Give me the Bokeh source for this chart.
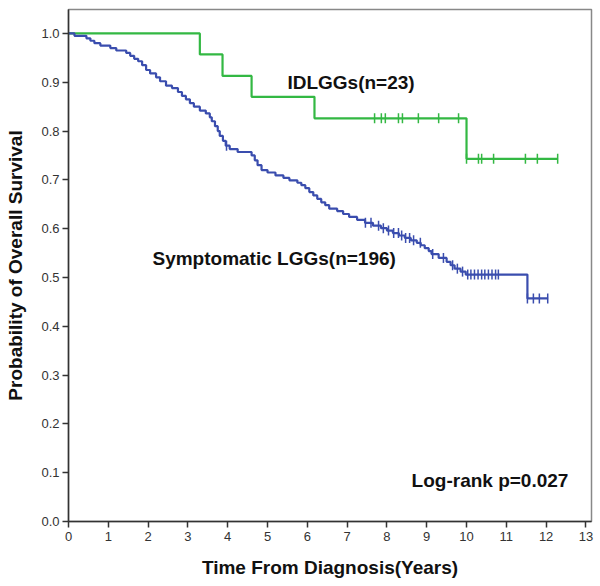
import numpy as np
from bokeh.plotting import figure
from bokeh.models import Range1d, FixedTicker, ColumnDataSource, CustomJSTickFormatter
from bokeh.core.properties import value
from bokeh.embed import file_html
from bokeh.resources import INLINE

# ---- data ----
# IDLGGs (n=23): event times (years) and survival after each event
green_times = [0.0, 3.3, 3.87, 4.6, 6.18, 10.0, 12.3]
green_surv = [1.0, 0.957, 0.913, 0.870, 0.826, 0.743, 0.743]
green_censor = [7.69, 7.86, 7.96, 8.29, 8.39, 8.79, 9.30, 9.80,
                10.0, 10.3, 10.38, 10.68, 11.48, 11.78, 12.29]

# Symptomatic LGGs (n=196)
blue_times = [0.0, 0.15, 0.45, 0.55, 0.65, 0.8, 1.05, 1.2, 1.45, 1.55, 1.65, 1.75,
              1.85, 1.95, 2.05, 2.2, 2.3, 2.45, 2.6, 2.75, 2.85, 2.95, 3.05, 3.15,
              3.3, 3.45, 3.55, 3.6, 3.68, 3.75, 3.8, 3.88, 3.95, 4.05, 4.25, 4.6,
              4.68, 4.75, 4.85, 5.0, 5.2, 5.4, 5.55, 5.75, 5.85, 5.95, 6.05, 6.15,
              6.25, 6.35, 6.45, 6.55, 6.75, 6.9, 7.05, 7.25, 7.45, 7.65, 7.85, 8.0,
              8.15, 8.3, 8.45, 8.6, 8.75, 8.85, 8.95, 9.05, 9.12, 9.3, 9.5, 9.6,
              9.7, 9.85, 9.98, 11.53, 12.05]
blue_surv = [1.0, 0.995, 0.99, 0.985, 0.98, 0.975, 0.97, 0.965, 0.96, 0.954, 0.948, 0.943,
             0.935, 0.925, 0.918, 0.91, 0.902, 0.893, 0.888, 0.88, 0.872, 0.865, 0.857, 0.85,
             0.842, 0.836, 0.828, 0.82, 0.81, 0.80, 0.79, 0.78, 0.77, 0.763, 0.757, 0.75,
             0.74, 0.73, 0.72, 0.715, 0.709, 0.704, 0.699, 0.694, 0.689, 0.683, 0.675, 0.668,
             0.661, 0.654, 0.648, 0.641, 0.636, 0.63, 0.624, 0.618, 0.612, 0.606, 0.601, 0.596,
             0.591, 0.586, 0.581, 0.576, 0.571, 0.566, 0.56, 0.554, 0.548, 0.54, 0.532, 0.525,
             0.518, 0.512, 0.506, 0.457, 0.457]
blue_censor = [3.97, 7.46, 7.6, 7.79, 7.91, 8.04, 8.17, 8.29, 8.37, 8.47, 8.57, 8.67, 8.84,
               9.15, 9.42, 9.65, 9.77, 9.9, 10.03, 10.11, 10.2, 10.29, 10.38, 10.46,
               10.55, 10.64, 10.73, 10.8, 11.53, 11.68, 11.83, 12.04]

x_ticks = list(range(0, 14))
y_ticks = [0.0, 0.1, 0.2, 0.3, 0.4, 0.5, 0.6, 0.7, 0.8, 0.9, 1.0]

labels = ["IDLGGs(n=23)", "Symptomatic LGGs(n=196)", "Log-rank p=0.027"]
label_x = [5.5, 2.11, 8.62]
label_y = [0.90, 0.539, 0.084]

GREEN = "#33B843"
BLUE = "#3A4DAE"


def surv_at(times, surv, t):
    idx = np.searchsorted(times, t, side="right") - 1
    return [surv[i] for i in idx]


p = figure(width=600, height=586, output_backend="svg", toolbar_location=None,
           x_range=Range1d(0, 13.14), y_range=Range1d(0, 1.049),
           min_border_left=68, min_border_right=9, min_border_top=9, min_border_bottom=65)

p.background_fill_color = "white"
p.border_fill_color = "white"
p.outline_line_color = "#888888"
p.outline_line_width = 1.5
p.xgrid.visible = False
p.ygrid.visible = False

p.xaxis.ticker = FixedTicker(ticks=x_ticks)
p.yaxis.ticker = FixedTicker(ticks=y_ticks)
p.yaxis.formatter = CustomJSTickFormatter(code="return tick.toFixed(1);")

for ax in (p.xaxis[0], p.yaxis[0]):
    ax.axis_line_color = "#333333"
    ax.axis_line_width = 1.5
    ax.major_tick_line_color = "#333333"
    ax.major_tick_line_width = 1.5
    ax.major_tick_in = 0
    ax.major_tick_out = 6
    ax.minor_tick_line_color = None
    ax.major_label_text_font = "Liberation Sans"
    ax.major_label_text_font_size = "13px"
    ax.major_label_text_color = "#333333"
    ax.axis_label_text_font = "Liberation Sans"
    ax.axis_label_text_font_style = "bold"
    ax.axis_label_text_font_size = "19px"
    ax.axis_label_text_color = "#111111"

p.xaxis.axis_label = "Time From Diagnosis(Years)"
p.yaxis.axis_label = "Probability of Overall Survival"
p.xaxis.major_label_standoff = 4
p.xaxis.axis_label_standoff = 13
p.yaxis.major_label_standoff = 3
p.yaxis.axis_label_standoff = 12

p.step(green_times, green_surv, mode="after", line_color=GREEN, line_width=2.2)
p.step(blue_times, blue_surv, mode="after", line_color=BLUE, line_width=2.2)

p.scatter(green_censor, surv_at(green_times, green_surv, green_censor), marker="dash",
          angle=np.pi / 2, size=10, line_color=GREEN, line_width=1.5)
p.scatter(blue_censor, surv_at(blue_times, blue_surv, blue_censor), marker="dash",
          angle=np.pi / 2, size=10, line_color=BLUE, line_width=1.5)

src = ColumnDataSource(dict(x=label_x, y=label_y, t=labels))
p.text(x="x", y="y", text="t", source=src, text_font=value("Liberation Sans"),
       text_font_style="bold", text_font_size="19px", text_baseline="middle",
       text_align="left", text_color="#111111")

open("out.html", "w").write(file_html(p, INLINE))
